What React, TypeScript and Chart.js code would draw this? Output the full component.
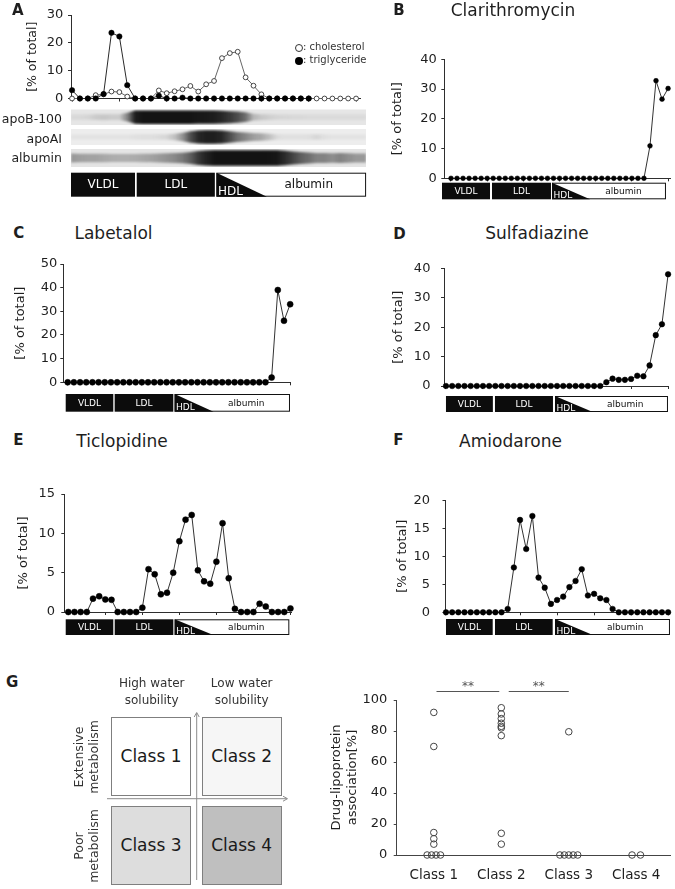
import React, { useEffect, useRef } from 'react';
import { Chart, registerables } from 'chart.js';

Chart.register(...registerables);

const FONT = "'DejaVu Sans', Verdana, sans-serif";
const INK = '#1e1e1e';
const AXIS = '#2e2e2e';
Chart.defaults.font.family = FONT;

// ---------------- data ----------------
const FRACTIONS = [1, 2, 3, 4, 5, 6, 7, 8, 9, 10, 11, 12, 13, 14, 15, 16, 17, 18, 19, 20, 21, 22, 23, 24, 25, 26, 27, 28, 29, 30, 31, 32, 33, 34, 35, 36, 37];
const X_TICKS = [1, 7, 13, 19, 25, 31, 37];
const FRACTION_CLASSES = ['VLDL', 'LDL', 'HDL', 'albumin'];

const A_TRIGLYCERIDE = [3.0, 0, 0, 0, 1.6, 23.6, 22.3, 4.8, 0, 0, 0, 1.0, 0, 0, 0.3, 0, 0, 0, 0, 0, 0, 0, 0, 0, 0, 0, 0, 0, 0, 0, 0];
const A_CHOLESTEROL = [0, 0, 0, 1.2, 1.5, 2.5, 2.3, 0.7, 0, 0, 0, 2.9, 1.9, 2.6, 3.3, 4.5, 2.5, 5.1, 6.3, 14.5, 16.3, 16.8, 7.6, 4.6, 1.5, 0, 0, 0, 0, 0, 0, 0, 0, 0, 0, 0, 0];

const BLOT_LABELS = ['apoB-100', 'apoAI', 'albumin'];
const BLOT_APOB100 = [
  0.06, 0.06, 0.08, 0.12, 0.14, 0.12, 0.12, 0.45, 0.92, 0.96,
  0.96, 0.96, 0.96, 0.96, 0.96, 0.96, 0.95, 0.94, 0.92, 0.88,
  0.8, 0.7, 0.55, 0.22, 0.14, 0.1, 0.08, 0.07, 0.06, 0.06,
  0.05, 0.05, 0.05, 0.05, 0.05, 0.05, 0.05,
];
const BLOT_APOAI = [
  0.04, 0.04, 0.04, 0.04, 0.04, 0.04, 0.04, 0.04, 0.05, 0.06,
  0.06, 0.08, 0.1, 0.2, 0.4, 0.7, 0.88, 0.92, 0.92, 0.88,
  0.72, 0.55, 0.45, 0.35, 0.3, 0.2, 0.08, 0.05, 0.05, 0.05,
  0.06, 0.1, 0.05, 0.04, 0.04, 0.04, 0.04,
];
const BLOT_ALBUMIN = [
  0.35, 0.32, 0.3, 0.3, 0.28, 0.26, 0.25, 0.25, 0.26, 0.28,
  0.3, 0.34, 0.38, 0.42, 0.5, 0.62, 0.8, 0.9, 0.96, 0.97,
  0.97, 0.97, 0.97, 0.97, 0.97, 0.96, 0.95, 0.85, 0.75, 0.62,
  0.55, 0.45, 0.45, 0.4, 0.45, 0.4, 0.35,
];

const B_CLARITHROMYCIN = [0, 0, 0, 0, 0, 0, 0, 0, 0, 0, 0, 0, 0, 0, 0, 0, 0, 0, 0, 0, 0, 0, 0, 0, 0, 0, 0, 0, 0, 0, 0, 0, 0, 10.9, 32.8, 26.6, 30.2];
const C_LABETALOL = [0, 0, 0, 0, 0, 0, 0, 0, 0, 0, 0, 0, 0, 0, 0, 0, 0, 0, 0, 0, 0, 0, 0, 0, 0, 0, 0, 0, 0, 0, 0, 0, 0, 2.0, 39.0, 26.0, 33.0];
const D_SULFADIAZINE = [0, 0, 0, 0, 0, 0, 0, 0, 0, 0, 0, 0, 0, 0, 0, 0, 0, 0, 0, 0, 0, 0, 0, 0, 0, 0, 1.3, 2.5, 2.1, 2.1, 2.4, 3.5, 3.3, 7.0, 17.3, 21.0, 38.0];
const E_TICLOPIDINE = [0, 0, 0, 0, 1.7, 2.0, 1.6, 1.55, 0, 0, 0, 0, 0.55, 5.45, 4.8, 2.25, 2.45, 5.0, 9.0, 11.75, 12.35, 5.3, 3.9, 3.6, 6.4, 11.3, 4.3, 0.4, 0, 0, 0, 1.05, 0.7, 0, 0, 0, 0.45];
const F_AMIODARONE = [0, 0, 0, 0, 0, 0, 0, 0, 0, 0, 0.6, 8.0, 16.5, 11.3, 17.2, 6.2, 4.4, 1.5, 2.2, 2.8, 4.5, 5.6, 7.7, 3.0, 3.3, 2.5, 2.2, 0.6, 0, 0, 0, 0, 0, 0, 0, 0, 0];

const CLASS_LABELS = ['Class 1', 'Class 2', 'Class 3', 'Class 4'];
const CLASS1_ASSOC = [92, 70, 14.5, 10.5, 7, 0, 0, 0, 0];
const CLASS2_ASSOC = [95, 91, 88, 85, 83, 82, 77, 14, 7];
const CLASS3_ASSOC = [79.5, 0, 0, 0, 0, 0];
const CLASS4_ASSOC = [0, 0];
const ASSOC_TICKS = [0, 20, 40, 60, 80, 100];
const SIG_LEVEL = 105.8;
const SIGNIFICANCE = [
  { from: 1.04, to: 1.97, label: '**' },
  { from: 2.11, to: 3.0, label: '**' },
];

// ---------------- panel specs ----------------
type Band = { vldl: number[]; ldl: number[]; hdl: number[]; albuminAt: number };
type Series = { values: number[]; filled: boolean; radius: number; line: string };
type Panel = {
  canvas: { x: number; y: number; w: number; h: number };
  area: { left: number; top: number; bottom: number; step: number };
  xMin: number; xMax: number; yMax: number; yStep: number;
  yTitleX: number; yTitleFont: number; tickFont: number; tickGap: number;
  series: Series[];
  bands: Band; boxTop: number; boxH: number; boxFont: number;
  blots?: { from: number; to: number; rows: { values: number[]; top: number; h: number; bg: string }[] };
};

const PANEL_A: Panel = {
  canvas: { x: 0, y: 0, w: 375, h: 205 },
  area: { left: 71, top: 15, bottom: 98.5, step: 7.89 },
  xMin: 0.87, xMax: 37.5, yMax: 30, yStep: 10,
  yTitleX: 33, yTitleFont: 12.5, tickFont: 13, tickGap: 7.7,
  series: [
    { values: A_TRIGLYCERIDE, filled: true, radius: 2.7, line: '#2a2a2a' },
    { values: A_CHOLESTEROL, filled: false, radius: 2.4, line: '#666' },
  ],
  bands: { vldl: [0.87, 8.98], ldl: [9.2, 19.1], hdl: [19.3, 25.7, 38.27], albuminAt: 31.0 },
  boxTop: 74.2, boxH: 24, boxFont: 12,
  blots: {
    from: 0.87, to: 38.27,
    rows: [
      { values: BLOT_APOB100, top: 10.8, h: 15.7, bg: '#e6e6e6' },
      { values: BLOT_APOAI, top: 30.5, h: 16, bg: '#ededed' },
      { values: BLOT_ALBUMIN, top: 50.5, h: 18, bg: '#e4e4e4' },
    ],
  },
};
const PANEL_B: Panel = {
  canvas: { x: 375, y: 20, w: 300, h: 190 },
  area: { left: 444.3, top: 59.3, bottom: 178.3, step: 6.03 },
  xMin: -0.11, xMax: 37.33, yMax: 40, yStep: 10,
  yTitleX: 397.3, yTitleFont: 13, tickFont: 13, tickGap: 7.6,
  series: [{ values: B_CLARITHROMYCIN, filled: true, radius: 2.4, line: '#333' }],
  bands: { vldl: [-0.49, 7.47], ldl: [7.8, 17.58], hdl: [17.75, 24.05, 36.65], albuminAt: 29.6 },
  boxTop: 4.4, boxH: 16.6, boxFont: 9,
};
const PANEL_C: Panel = {
  canvas: { x: 0, y: 250, w: 330, h: 170 },
  area: { left: 63.3, top: 264, bottom: 382.3, step: 6.18 },
  xMin: 0.29, xMax: 37.1, yMax: 50, yStep: 10,
  yTitleX: 20.7, yTitleFont: 13, tickFont: 13, tickGap: 6,
  series: [{ values: C_LABETALOL, filled: true, radius: 3, line: '#333' }],
  bands: { vldl: [0.68, 8.38], ldl: [8.6, 18.09], hdl: [18.3, 24.6, 36.97], albuminAt: 29.9 },
  boxTop: 11.7, boxH: 17.7, boxFont: 9,
};
const PANEL_D: Panel = {
  canvas: { x: 375, y: 250, w: 300, h: 170 },
  area: { left: 444, top: 264.3, bottom: 386, step: 6.17 },
  xMin: 0.68, xMax: 37.05, yMax: 40, yStep: 10,
  yTitleX: 399, yTitleFont: 13, tickFont: 13, tickGap: 13.6,
  series: [{ values: D_SULFADIAZINE, filled: true, radius: 2.8, line: '#333' }],
  bands: { vldl: [1.0, 8.6], ldl: [8.94, 18.34], hdl: [18.67, 24.8, 36.98], albuminAt: 30.06 },
  boxTop: 10, boxH: 16, boxFont: 9,
};
const PANEL_E: Panel = {
  canvas: { x: 0, y: 480, w: 330, h: 160 },
  area: { left: 64.3, top: 493, bottom: 612, step: 6.17 },
  xMin: 0.35, xMax: 37.1, yMax: 15, yStep: 5,
  yTitleX: 23.3, yTitleFont: 13, tickFont: 13, tickGap: 9.3,
  series: [{ values: E_TICLOPIDINE, filled: true, radius: 3, line: '#333' }],
  bands: { vldl: [0.58, 8.29], ldl: [8.52, 18.02], hdl: [18.24, 24.5, 36.82], albuminAt: 29.85 },
  boxTop: 7.3, boxH: 15.7, boxFont: 9,
};
const PANEL_F: Panel = {
  canvas: { x: 375, y: 480, w: 300, h: 160 },
  area: { left: 445.5, top: 493.3, bottom: 612.3, step: 6.17 },
  xMin: 0.92, xMax: 37.1, yMax: 20, yStep: 5,
  yTitleX: 402.3, yTitleFont: 13, tickFont: 13, tickGap: 15.5,
  series: [{ values: F_AMIODARONE, filled: true, radius: 2.8, line: '#333' }],
  bands: { vldl: [1.0, 8.57], ldl: [8.94, 18.29], hdl: [18.67, 24.8, 37.3], albuminAt: 30.06 },
  boxTop: 6.7, boxH: 16, boxFont: 9,
};

// ---------------- chart builders ----------------
function fractionDecor(p: Panel) {
  return {
    id: 'fractionDecor',
    afterDraw(chart: any) {
      const { ctx, chartArea } = chart;
      const xs = chart.scales.x;
      const px = (v: number) => xs.getPixelForValue(v);
      const base = chartArea.bottom;
      ctx.save();
      if (p.blots) {
        const xa = px(p.blots.from);
        const xb = px(p.blots.to);
        p.blots.rows.forEach((row) => {
          const y0 = base + row.top;
          const mid = y0 + row.h / 2;
          ctx.save();
          ctx.beginPath();
          ctx.rect(xa, y0, xb - xa, row.h);
          ctx.clip();
          ctx.fillStyle = row.bg;
          ctx.fillRect(xa, y0, xb - xa, row.h);
          const n = row.values.length;
          const cxs = row.values.map((_, i) => px(FRACTIONS[i]));
          const half = row.values.map((v) => (row.h * (0.3 + 0.58 * v)) / 2);
          const grad = ctx.createLinearGradient(xa, 0, xb, 0);
          row.values.forEach((v, i) => {
            const t = Math.min(1, Math.max(0, (cxs[i] - xa) / (xb - xa)));
            grad.addColorStop(t, `rgba(12,12,12,${v})`);
          });
          ctx.filter = 'blur(1.2px)';
          ctx.beginPath();
          ctx.moveTo(xa, mid - half[0]);
          for (let i = 0; i < n; i++) ctx.lineTo(cxs[i], mid - half[i]);
          ctx.lineTo(xb, mid - half[n - 1]);
          ctx.lineTo(xb, mid + half[n - 1]);
          for (let i = n - 1; i >= 0; i--) ctx.lineTo(cxs[i], mid + half[i]);
          ctx.lineTo(xa, mid + half[0]);
          ctx.closePath();
          ctx.fillStyle = grad;
          ctx.fill();
          ctx.filter = 'none';
          ctx.restore();
        });
      }
      const b = p.bands;
      const y0 = base + p.boxTop;
      const h = p.boxH;
      ctx.font = `${p.boxFont}px ${FONT}`;
      const solid: [string, number[]][] = [[FRACTION_CLASSES[0], b.vldl], [FRACTION_CLASSES[1], b.ldl]];
      solid.forEach(([name, r]) => {
        const x1 = px(r[0]);
        const x2 = px(r[1]);
        ctx.fillStyle = '#0c0c0c';
        ctx.fillRect(x1, y0, x2 - x1, h);
        ctx.fillStyle = '#fff';
        ctx.textAlign = 'center';
        ctx.textBaseline = 'middle';
        ctx.fillText(name, (x1 + x2) / 2, y0 + h / 2 + 0.5);
      });
      const x1 = px(b.hdl[0]);
      const xt = px(b.hdl[1]);
      const x2 = px(b.hdl[2]);
      ctx.fillStyle = '#fff';
      ctx.fillRect(x1, y0, x2 - x1, h);
      ctx.strokeStyle = '#111';
      ctx.lineWidth = 1;
      ctx.strokeRect(x1 + 0.5, y0 + 0.5, x2 - x1 - 1, h - 1);
      ctx.beginPath();
      ctx.moveTo(x1, y0);
      ctx.lineTo(xt, y0 + h);
      ctx.lineTo(x1, y0 + h);
      ctx.closePath();
      ctx.fillStyle = '#0c0c0c';
      ctx.fill();
      ctx.fillStyle = '#fff';
      ctx.textAlign = 'left';
      ctx.textBaseline = 'alphabetic';
      ctx.fillText(FRACTION_CLASSES[2], x1 + 1.5, y0 + h - 1.5);
      ctx.fillStyle = '#111';
      ctx.textAlign = 'center';
      ctx.textBaseline = 'middle';
      ctx.fillText(FRACTION_CLASSES[3], px(b.albuminAt), y0 + h / 2 + 0.5);
      ctx.restore();
    },
  };
}

function buildFractionChart(canvas: HTMLCanvasElement, p: Panel) {
  const c = p.canvas;
  const a = p.area;
  const right = a.left + (p.xMax - p.xMin) * a.step;
  const xH = 4;
  const padLeft = p.yTitleX - c.x - 0.6 * p.yTitleFont;
  const yW = a.left - c.x - padLeft;
  const datasets = p.series.map((s) => ({
    data: s.values.map((v, i) => ({ x: FRACTIONS[i], y: v })),
    borderColor: s.line,
    borderWidth: 1,
    pointRadius: s.radius,
    pointHoverRadius: s.radius,
    pointBackgroundColor: s.filled ? '#000' : '#fff',
    pointBorderColor: s.filled ? '#000' : '#333',
    pointBorderWidth: s.filled ? 0.5 : 0.9,
    tension: 0,
    fill: false,
    clip: false,
  }));
  return new Chart(canvas, {
    type: 'line',
    data: { datasets },
    options: {
      responsive: false,
      animation: false,
      devicePixelRatio: 1,
      events: [],
      layout: {
        padding: {
          left: padLeft,
          right: c.x + c.w - right,
          top: a.top - c.y,
          bottom: c.y + c.h - a.bottom - xH,
        },
      },
      plugins: { legend: { display: false }, tooltip: { enabled: false }, title: { display: false } },
      scales: {
        x: {
          type: 'linear',
          min: p.xMin,
          max: p.xMax,
          afterBuildTicks: (s: any) => { s.ticks = X_TICKS.map((v) => ({ value: v })); },
          afterFit: (s: any) => { s.height = xH; },
          ticks: { display: false },
          grid: { display: true, drawOnChartArea: false, drawTicks: true, tickLength: 3, color: AXIS, lineWidth: 1 },
          border: { display: true, color: AXIS, width: 1 },
        },
        y: {
          type: 'linear',
          min: 0,
          max: p.yMax,
          afterFit: (s: any) => { s.width = yW; },
          ticks: { stepSize: p.yStep, font: { family: FONT, size: p.tickFont }, color: INK, padding: p.tickGap - 3 },
          grid: { display: true, drawOnChartArea: false, drawTicks: true, tickLength: 3, color: AXIS, lineWidth: 1 },
          border: { display: true, color: AXIS, width: 1 },
          title: { display: true, text: '[% of total]', font: { family: FONT, size: p.yTitleFont }, color: INK, padding: 0 },
        },
      },
    } as any,
    plugins: [fractionDecor(p)],
  });
}

function swarm(values: number[], pos: number) {
  const counts = new Map<number, number>();
  values.forEach((v) => counts.set(v, (counts.get(v) || 0) + 1));
  const seen = new Map<number, number>();
  return values.map((v) => {
    const n = counts.get(v) || 1;
    const k = seen.get(v) || 0;
    seen.set(v, k + 1);
    const d = n === 2 ? 0.125 : 0.066;
    return { x: pos + (k - (n - 1) / 2) * d, y: v };
  });
}

const SCATTER = {
  canvas: { x: 300, y: 665, w: 375, h: 224 },
  area: { left: 396.7, top: 700, right: 670, bottom: 855 },
  yTitleX: 336.7, yTitleFont: 13,
};

function buildScatter(canvas: HTMLCanvasElement) {
  const c = SCATTER.canvas;
  const a = SCATTER.area;
  const xH = 30;
  const padLeft = SCATTER.yTitleX - c.x - 0.6 * SCATTER.yTitleFont;
  const yW = a.left - c.x - padLeft;
  const sets = [CLASS1_ASSOC, CLASS2_ASSOC, CLASS3_ASSOC, CLASS4_ASSOC];
  const points = sets.flatMap((vals, i) => swarm(vals, i + 1));
  const sigPlugin = {
    id: 'significance',
    afterDraw(chart: any) {
      const { ctx } = chart;
      const xs = chart.scales.x;
      const ys = chart.scales.y;
      const y = Math.round(ys.getPixelForValue(SIG_LEVEL)) + 0.5;
      ctx.save();
      ctx.strokeStyle = '#555';
      ctx.lineWidth = 1;
      ctx.fillStyle = '#555';
      ctx.font = `12px ${FONT}`;
      ctx.textAlign = 'center';
      ctx.textBaseline = 'middle';
      SIGNIFICANCE.forEach((s) => {
        const x1 = xs.getPixelForValue(s.from);
        const x2 = xs.getPixelForValue(s.to);
        ctx.beginPath();
        ctx.moveTo(x1, y);
        ctx.lineTo(x2, y);
        ctx.stroke();
        ctx.fillText(s.label, (x1 + x2) / 2, y - 5);
      });
      ctx.restore();
    },
  };
  return new Chart(canvas, {
    type: 'scatter',
    data: {
      datasets: [{
        data: points,
        pointRadius: 3.3,
        pointHoverRadius: 3.3,
        pointBackgroundColor: 'rgba(255,255,255,0)',
        pointBorderColor: '#444',
        pointBorderWidth: 1,
        clip: false,
      }],
    },
    options: {
      responsive: false,
      animation: false,
      devicePixelRatio: 1,
      events: [],
      layout: {
        padding: {
          left: padLeft,
          right: c.x + c.w - a.right,
          top: a.top - c.y,
          bottom: c.y + c.h - a.bottom - xH,
        },
      },
      plugins: { legend: { display: false }, tooltip: { enabled: false } },
      scales: {
        x: {
          type: 'linear',
          min: 0.45,
          max: 4.5,
          afterBuildTicks: (s: any) => { s.ticks = CLASS_LABELS.map((_, i) => ({ value: i + 1 })); },
          afterFit: (s: any) => { s.height = xH; },
          ticks: {
            font: { family: FONT, size: 13.5 },
            color: INK,
            padding: 11.9,
            maxRotation: 0,
            autoSkip: false,
            callback: (v: any) => CLASS_LABELS[Math.round(v) - 1],
          },
          grid: { display: false, drawTicks: false },
          border: { display: true, color: '#444', width: 1 },
        },
        y: {
          type: 'linear',
          min: 0,
          max: 100,
          afterBuildTicks: (s: any) => { s.ticks = ASSOC_TICKS.map((v) => ({ value: v })); },
          afterFit: (s: any) => { s.width = yW; },
          ticks: { font: { family: FONT, size: 13 }, color: INK, padding: 6.4 },
          grid: { display: true, drawOnChartArea: false, drawTicks: true, tickLength: 3, color: '#444' },
          border: { display: true, color: '#444', width: 1 },
          title: {
            display: true,
            text: ['Drug-lipoprotein', 'association[%]'],
            font: { family: FONT, size: SCATTER.yTitleFont },
            color: INK,
            padding: 0,
          },
        },
      },
    } as any,
    plugins: [sigPlugin],
  });
}

// ---------------- components ----------------
function ChartCanvas({ rect, build }: { rect: { x: number; y: number; w: number; h: number }; build: (c: HTMLCanvasElement) => Chart }) {
  const ref = useRef<HTMLCanvasElement | null>(null);
  useEffect(() => {
    if (!ref.current) return;
    const chart = build(ref.current);
    return () => chart.destroy();
  }, []);
  return (
    <canvas
      ref={ref}
      width={rect.w}
      height={rect.h}
      style={{ position: 'absolute', left: rect.x, top: rect.y, width: rect.w, height: rect.h }}
    />
  );
}

type TxtProps = {
  x: number; y: number; size: number; children: React.ReactNode;
  align?: 'left' | 'center' | 'right'; weight?: number; color?: string; lines?: number; lh?: number;
};
function Txt({ x, y, size, children, align = 'center', weight = 400, color = INK, lines = 1, lh }: TxtProps) {
  const L = lh ?? size * 1.25;
  const style: React.CSSProperties = {
    position: 'absolute',
    top: y - (L * lines) / 2,
    fontSize: size,
    lineHeight: `${L}px`,
    fontWeight: weight,
    color,
    whiteSpace: 'nowrap',
    fontFamily: FONT,
  };
  if (align === 'center') { style.left = x - 150; style.width = 300; style.textAlign = 'center'; }
  else if (align === 'left') { style.left = x; }
  else { style.left = x - 300; style.width = 300; style.textAlign = 'right'; }
  return <div style={style}>{children}</div>;
}

function Rot({ cx, cy, children }: { cx: number; cy: number; children: React.ReactNode }) {
  return (
    <div
      style={{
        position: 'absolute', left: cx - 70, top: cy - 15, width: 140, height: 30,
        transform: 'rotate(-90deg)', textAlign: 'center', fontSize: 12.5, lineHeight: '15px',
        color: '#333', fontFamily: FONT, whiteSpace: 'nowrap',
      }}
    >
      {children}
    </div>
  );
}

function ClassBox({ x, y, fill, label }: { x: number; y: number; fill: string; label: string }) {
  return (
    <div
      style={{
        position: 'absolute', left: x, top: y, width: 80, height: 79.5, boxSizing: 'border-box',
        border: '1px solid #7f7f7f', background: fill, display: 'flex', alignItems: 'center',
        justifyContent: 'center', fontSize: 17, color: '#1a1a1a', fontFamily: FONT,
      }}
    >
      {label}
    </div>
  );
}

export default function App() {
  const panels = [PANEL_A, PANEL_B, PANEL_C, PANEL_D, PANEL_E, PANEL_F];
  return (
    <div
      style={{
        position: 'absolute', left: 0, top: 0, width: 675, height: 889, background: '#fff',
        overflow: 'hidden', fontFamily: FONT, color: INK,
      }}
    >
      {panels.map((p, i) => (
        <ChartCanvas key={i} rect={p.canvas} build={(c) => buildFractionChart(c, p)} />
      ))}
      <ChartCanvas rect={SCATTER.canvas} build={buildScatter} />

      {/* panel letters */}
      <Txt x={12} y={10.8} size={15} weight={700} align="left" lh={15}>A</Txt>
      <Txt x={393.3} y={10.8} size={15} weight={700} align="left" lh={15}>B</Txt>
      <Txt x={13.3} y={233.7} size={15} weight={700} align="left" lh={15}>C</Txt>
      <Txt x={393.3} y={234} size={15} weight={700} align="left" lh={15}>D</Txt>
      <Txt x={13.3} y={440.5} size={15} weight={700} align="left" lh={15}>E</Txt>
      <Txt x={393.3} y={440.8} size={15} weight={700} align="left" lh={15}>F</Txt>
      <Txt x={6} y={682.5} size={15} weight={700} align="left" lh={15}>G</Txt>

      {/* titles */}
      <Txt x={513} y={10.3} size={17} lh={20}>Clarithromycin</Txt>
      <Txt x={113.5} y={233} size={17} lh={20}>Labetalol</Txt>
      <Txt x={537} y={233.3} size={17} lh={20}>Sulfadiazine</Txt>
      <Txt x={122} y={440.8} size={17} lh={20}>Ticlopidine</Txt>
      <Txt x={510.5} y={440.8} size={17} lh={20}>Amiodarone</Txt>

      {/* blot labels */}
      <Txt x={62} y={119} size={12.5} align="right">{BLOT_LABELS[0]}</Txt>
      <Txt x={62} y={139} size={12.5} align="right">{BLOT_LABELS[1]}</Txt>
      <Txt x={62} y={157.5} size={12.5} align="right">{BLOT_LABELS[2]}</Txt>

      {/* legend A */}
      <div style={{ position: 'absolute', left: 295, top: 44, width: 6, height: 6, borderRadius: '50%', border: '1px solid #333', background: '#fff' }} />
      <Txt x={303} y={47.5} size={10} align="left" color="#333">: cholesterol</Txt>
      <div style={{ position: 'absolute', left: 295, top: 56.5, width: 8, height: 8, borderRadius: '50%', background: '#000' }} />
      <Txt x={303} y={60.5} size={10} align="left" color="#333">: triglyceride</Txt>

      {/* G diagram */}
      <Txt x={151.7} y={691.7} size={12} lines={2} lh={16.7} color="#333">High water<br />solubility</Txt>
      <Txt x={241.7} y={691.7} size={12} lines={2} lh={16.7} color="#333">Low water<br />solubility</Txt>
      <ClassBox x={111} y={716.7} fill="#ffffff" label="Class 1" />
      <ClassBox x={201.7} y={716.7} fill="#f6f6f6" label="Class 2" />
      <ClassBox x={111} y={805.7} fill="#dddddd" label="Class 3" />
      <ClassBox x={201.7} y={805.7} fill="#bfbfbf" label="Class 4" />
      <svg width={675} height={889} style={{ position: 'absolute', left: 0, top: 0 }}>
        <line x1={196.7} y1={880} x2={196.7} y2={713} stroke="#8c8c8c" strokeWidth={1} />
        <polyline points="194.2,717 196.7,712.5 199.2,717" fill="none" stroke="#8c8c8c" strokeWidth={1} />
        <line x1={107} y1={798.7} x2={287} y2={798.7} stroke="#8c8c8c" strokeWidth={1} />
        <polyline points="283,796.2 287.5,798.7 283,801.2" fill="none" stroke="#8c8c8c" strokeWidth={1} />
      </svg>
      <Rot cx={85.5} cy={757}>Extensive<br />metabolism</Rot>
      <Rot cx={85.5} cy={846}>Poor<br />metabolism</Rot>
    </div>
  );
}
